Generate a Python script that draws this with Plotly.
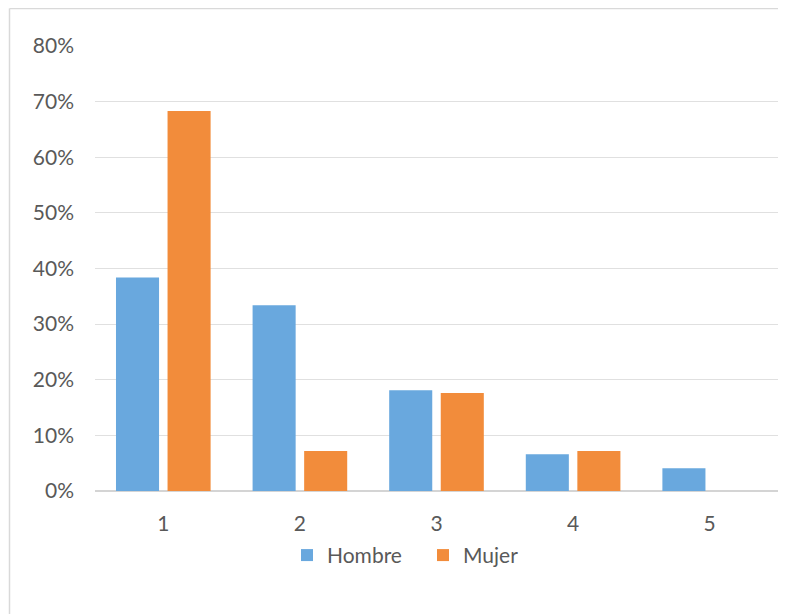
import plotly.graph_objects as go

categories = ["1", "2", "3", "4", "5"]
hombre = [0.384, 0.334, 0.181, 0.066, 0.041]
mujer = [0.683, 0.072, 0.176, 0.072, 0.0]
y_ticks = [0, 0.1, 0.2, 0.3, 0.4, 0.5, 0.6, 0.7, 0.8]

FONT = "Lato"
TXT = "#595959"

fig = go.Figure()
fig.add_trace(go.Bar(x=categories, y=hombre, name="Hombre",
                     marker=dict(color="#69A8DE", line=dict(width=0))))
fig.add_trace(go.Bar(x=categories, y=mujer, name="Mujer",
                     marker=dict(color="#F28C3B", line=dict(width=0))))

# page has an 8px body margin; figure coordinates are page - 8
OFF = 8
W, H = 778, 606
L, R, T, B = 95 - OFF, 786 - 778, 46 - OFF, 614 - 491.5
pw, ph = W - L - R, H - T - B

def px(x):  # page x -> paper
    return (x - OFF - L) / pw

def py(y):  # page y -> paper
    return (H - B - (y - OFF)) / ph

fig.update_layout(
    width=W, height=H,
    margin=dict(l=L, r=R, t=T, b=B, pad=0),
    paper_bgcolor="white", plot_bgcolor="white",
    font=dict(family=FONT, size=21, color=TXT),
    barmode="group", bargap=0.245, bargroupgap=0.165,
    showlegend=True,
    legend=dict(orientation="h", x=px(287), xanchor="left",
                y=py(556), yanchor="middle",
                font=dict(family=FONT, size=21, color=TXT),
                itemwidth=30, entrywidth=91, traceorder="normal"),
    xaxis=dict(showgrid=False, ticks="", showline=False, zeroline=False,
               tickfont=dict(family=FONT, size=21, color=TXT),
               ticklabelstandoff=18),
    yaxis=dict(range=[0, 0.8], tickvals=y_ticks, tickformat=".0%",
               showgrid=True, gridcolor="#E0E0E0", gridwidth=1,
               zeroline=True, zerolinecolor="#D4D4D4", zerolinewidth=2,
               showline=False, ticks="",
               tickfont=dict(family=FONT, size=21, color=TXT),
               ticklabelstandoff=20),
    shapes=[
        dict(type="line", xref="paper", yref="paper",
             x0=px(9.5), x1=px(9.5), y0=py(8.5), y1=py(620),
             line=dict(color="#D9D9D9", width=1.5)),
        dict(type="line", xref="paper", yref="paper",
             x0=px(9.5), x1=px(790), y0=py(8.5), y1=py(8.5),
             line=dict(color="#D9D9D9", width=1.5)),
    ],
)

fig.write_html("out.html")
